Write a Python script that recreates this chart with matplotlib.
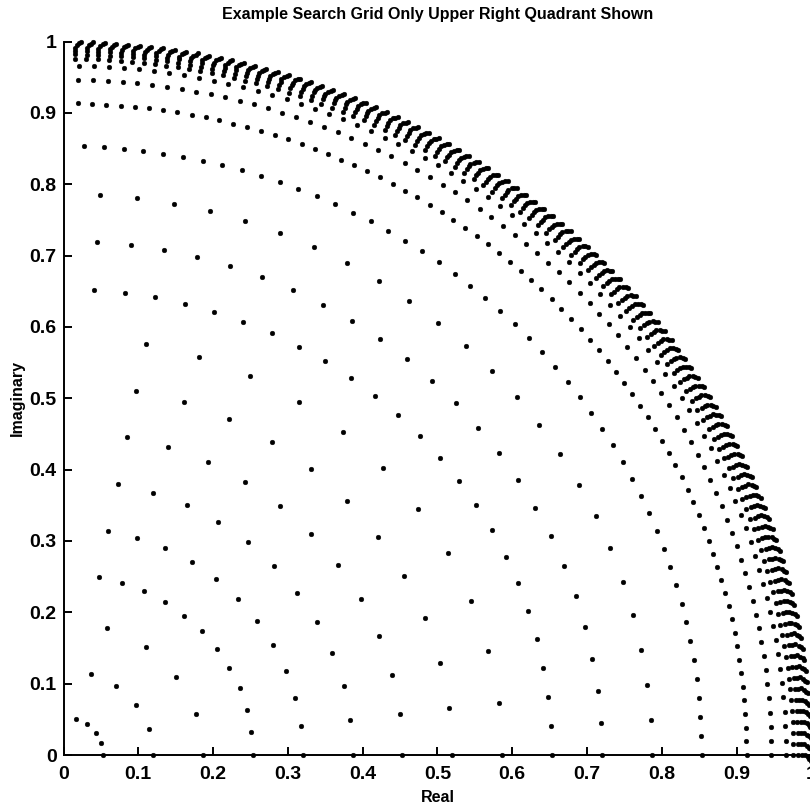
import numpy as np
import matplotlib
matplotlib.use("Agg")
import matplotlib.pyplot as plt
from matplotlib import font_manager

# ---- data ----
# radius of each circular arc of the search grid
radii = [0.0533, 0.1200, 0.1867, 0.2533, 0.3200, 0.3867, 0.4533, 0.5200,
         0.5867, 0.6533, 0.7200, 0.7867, 0.8533, 0.9135, 0.9466, 0.9662,
         0.9760, 0.9822, 0.9870, 0.9910, 0.9950, 0.9975, 0.9995]
# angular step (degrees) between neighbouring points on each arc
steps = [18.0, 18.0, 18.0, 7.2, 7.2, 7.2, 7.2, 7.2,
         7.2, 3.6, 3.6, 3.6, 1.8, 1.2, 1.2, 1.2,
         0.9, 0.9, 0.9, 0.9, 0.9, 0.9, 0.9]
# number of points shown on each arc (starting at angle 0)
counts = [5, 5, 5, 12, 12, 12, 12, 12,
          12, 25, 25, 25, 50, 75, 75, 75,
          100, 100, 100, 100, 100, 100, 100]
# small angular shift (degrees) of the outermost arcs (the hooked strokes)
shifts = [0, 0, 0, 0, 0, 0, 0, 0,
          0, 0, 0, 0, 0, 0, 0, 0,
          0, 0, 0, 0, -0.15, -0.30, -0.45]

xticks = [0, 0.1, 0.2, 0.3, 0.4, 0.5, 0.6, 0.7, 0.8, 0.9, 1]
xticklabels = ["0", "0.1", "0.2", "0.3", "0.4", "0.5", "0.6", "0.7", "0.8", "0.9", "1"]
yticks = [0, 0.1, 0.2, 0.3, 0.4, 0.5, 0.6, 0.7, 0.8, 0.9, 1]
yticklabels = ["0", "0.1", "0.2", "0.3", "0.4", "0.5", "0.6", "0.7", "0.8", "0.9", "1"]
title = "Example Search Grid Only Upper Right Quadrant Shown"
xlabel = "Real"
ylabel = "Imaginary"

# ---- fonts ----
names = {f.name for f in font_manager.fontManager.ttflist}
fam = ["Liberation Sans Narrow", "Liberation Sans", "DejaVu Sans"]
fam = [f for f in fam if f in names] or ["DejaVu Sans"]
plt.rcParams["font.family"] = fam

W, H = 810, 806
fig = plt.figure(figsize=(W / 100, H / 100), dpi=100)
x0, x1 = 63.5, 811.3
y0, y1 = 755.0, 41.5
ax = fig.add_axes([x0 / W, (H - y0) / H, (x1 - x0) / W, (y0 - y1) / H])

xs, ys = [], []
for r, st, n, sh in zip(radii, steps, counts, shifts):
    ang = np.deg2rad(np.arange(n) * st + sh)
    xs.append(r * np.cos(ang))
    ys.append(r * np.sin(ang))
xs = np.concatenate(xs)
ys = np.concatenate(ys)
ax.plot(xs, ys, linestyle="none", marker="o", markersize=3.4,
        markerfacecolor="black", markeredgecolor="black", markeredgewidth=0.3,
        clip_on=False)

ax.set_xlim(0, 1)
ax.set_ylim(0, 1)
ax.set_xticks(xticks)
ax.set_xticklabels(xticklabels)
ax.set_yticks(yticks)
ax.set_yticklabels(yticklabels)
for s in ["top", "right"]:
    ax.spines[s].set_visible(False)
for s in ["left", "bottom"]:
    ax.spines[s].set_linewidth(1.4)
ax.tick_params(direction="in", length=6, width=1.4, labelsize=14)
ax.tick_params(axis="x", pad=8)
ax.tick_params(axis="y", pad=5)
for lab in ax.get_xticklabels() + ax.get_yticklabels():
    lab.set_fontweight("bold")

ax.set_title(title, fontsize=11.5, fontweight="bold", pad=16)
ax.set_xlabel(xlabel, fontsize=11.5, fontweight="bold", labelpad=5)
ax.set_ylabel(ylabel, fontsize=11.5, fontweight="bold", labelpad=3)

fig.savefig("out.png", dpi=100)
